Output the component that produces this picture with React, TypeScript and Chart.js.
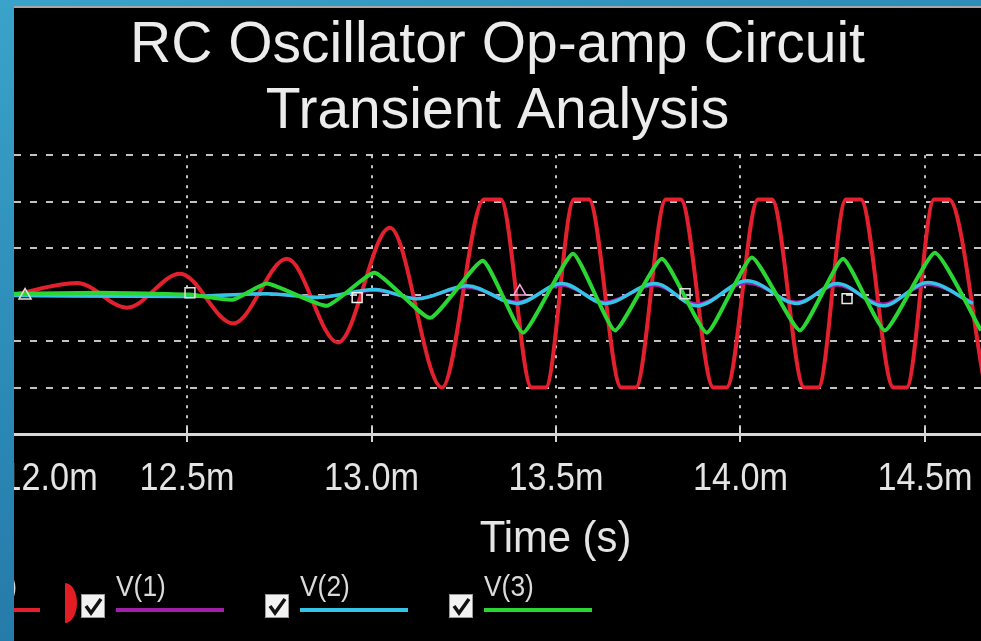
import React, { useEffect, useRef } from "react";
import { Chart, registerables } from "chart.js";

Chart.register(...registerables);

// ---------- text ----------
const TITLE_LINES = ["RC Oscillator Op-amp Circuit", "Transient Analysis"];
const X_AXIS_TITLE = "Time (s)";

// ---------- axes ----------
const X_MIN = 12.031;
const X_MAX = 14.652;
const X_TICK_VALUES = [12.0, 12.5, 13.0, 13.5, 14.0, 14.5];
const X_TICK_LABELS = ["12.0m", "12.5m", "13.0m", "13.5m", "14.0m", "14.5m"];
const Y_MIN = -3;
const Y_MAX = 3;
const Y_TICK_VALUES = [-3, -2, -1, 0, 1, 2, 3];

// ---------- series ----------
const SERIES_NAMES = ["V(vout)", "V(1)", "V(2)", "V(3)"];
const SERIES_COLORS = ["#e2202e", "#a21fa8", "#33c4e8", "#2ad632"];

// red trace (time in ms, volts)
const RED_T = [12.031, 12.202, 12.337, 12.481, 12.625, 12.771, 12.909, 13.05, 13.191,
  13.305, 13.35, 13.434, 13.472, 13.549, 13.589, 13.677, 13.716, 13.798, 13.838,
  13.927, 13.962, 14.048, 14.085, 14.173, 14.211, 14.286, 14.326, 14.415, 14.45,
  14.525, 14.565, 14.663];
const RED_V = [0.0, 0.25, -0.28, 0.45, -0.62, 0.77, -1.03, 1.44, -2.0,
  2.05, 2.05, -2.0, -2.0, 2.05, 2.05, -2.0, -2.0, 2.05, 2.05,
  -2.0, -2.0, 2.05, 2.05, -2.0, -2.0, 2.05, 2.05, -2.0, -2.0,
  2.05, 2.05, -2.0];

// purple trace V(1)
const V1_T = [12.031, 12.508, 12.717, 12.852, 13.009, 13.123, 13.259, 13.394, 13.516,
  13.633, 13.768, 13.882, 14.018, 14.153, 14.262, 14.386, 14.508, 14.63];
const V1_V = [-0.02, -0.03, 0.02, -0.05, 0.09, -0.08, 0.16, -0.16, 0.2,
  -0.16, 0.2, -0.2, 0.25, -0.16, 0.2, -0.2, 0.22, -0.16];

// cyan trace V(2)
const V2_T = [12.031, 12.508, 12.717, 12.852, 13.009, 13.123, 13.259, 13.394, 13.516,
  13.633, 13.768, 13.882, 14.018, 14.153, 14.262, 14.386, 14.508, 14.63];
const V2_V = [-0.02, -0.04, 0.02, -0.06, 0.11, -0.09, 0.19, -0.19, 0.24,
  -0.19, 0.24, -0.24, 0.3, -0.19, 0.24, -0.24, 0.26, -0.19];

// green trace V(3)
const V3_T = [12.031, 12.264, 12.508, 12.625, 12.717, 12.879, 13.009, 13.159, 13.302,
  13.411, 13.546, 13.66, 13.787, 13.909, 14.031, 14.161, 14.278, 14.392, 14.527, 14.652];
const V3_V = [0.02, 0.04, 0.0, -0.11, 0.24, -0.24, 0.47, -0.5, 0.73,
  -0.82, 0.88, -0.77, 0.77, -0.82, 0.8, -0.77, 0.77, -0.77, 0.9, -0.77];

// trace markers
const MARK_T = [12.061, 12.508, 12.961, 13.402, 13.85, 14.289];
const MARK_V = [-0.02, 0.04, -0.065, 0.065, 0.02, -0.086];
const MARK_SHAPES = ["triangle", "rect", "rect", "triangle", "rect", "rect"];
const MARK_COLORS = ["#e8e2d2", "#e0e0e0", "#f2f2f2", "#f2a8d8", "#dcdcdc", "#ececec"];

const FONT = "'Liberation Sans', Arial, Helvetica, sans-serif";

const pts = (t: number[], v: number[]) => t.map((x, i) => ({ x, y: v[i] }));

const overlayPlugin = {
  id: "scopeOverlay",
  afterDraw(chart: any) {
    const { ctx, chartArea, scales } = chart;
    const xs = scales.x;
    const bottom = chartArea.bottom;
    ctx.save();

    // tick marks across the axis
    ctx.strokeStyle = "#d4d4d4";
    ctx.lineWidth = 2;
    X_TICK_VALUES.forEach((v) => {
      if (v < xs.min || v > xs.max) return;
      const px = Math.round(xs.getPixelForValue(v));
      ctx.beginPath();
      ctx.moveTo(px, bottom - 7);
      ctx.lineTo(px, bottom + 8);
      ctx.stroke();
    });

    // tick labels
    ctx.fillStyle = "#e4e4e4";
    ctx.font = `38px ${FONT}`;
    ctx.textBaseline = "alphabetic";
    X_TICK_VALUES.forEach((v, i) => {
      const px = xs.getPixelForValue(v);
      ctx.save();
      ctx.translate(px, bottom + 56);
      ctx.scale(0.9, 1);
      ctx.textAlign = i === 0 ? "left" : "center";
      ctx.fillText(X_TICK_LABELS[i], 0, 0);
      ctx.restore();
    });

    // axis title
    ctx.save();
    ctx.font = `44px ${FONT}`;
    ctx.textAlign = "center";
    ctx.translate(chartArea.left + (chartArea.right - chartArea.left) * 0.56, bottom + 118);
    ctx.scale(0.95, 1);
    ctx.fillText(X_AXIS_TITLE, 0, 0);
    ctx.restore();

    // legend
    const legTop = bottom + 160;
    SERIES_NAMES.forEach((name, i) => {
      const cbx = chartArea.left - 117 + 184 * i;
      // checkbox
      ctx.fillStyle = "#f2f2f2";
      ctx.fillRect(cbx, legTop, 24, 24);
      ctx.strokeStyle = "#9a9a9a";
      ctx.lineWidth = 1;
      ctx.strokeRect(cbx + 0.5, legTop + 0.5, 23, 23);
      ctx.strokeStyle = "#111";
      ctx.lineWidth = 3.5;
      ctx.beginPath();
      ctx.moveTo(cbx + 5, legTop + 12);
      ctx.lineTo(cbx + 10, legTop + 19);
      ctx.lineTo(cbx + 20, legTop + 5);
      ctx.stroke();
      // label
      ctx.save();
      ctx.fillStyle = "#dadada";
      ctx.font = `30px ${FONT}`;
      ctx.textAlign = "left";
      ctx.translate(cbx + 35, legTop + 2);
      ctx.scale(0.88, 1);
      ctx.fillText(name, 0, 0);
      ctx.restore();
      // line sample
      ctx.strokeStyle = SERIES_COLORS[i];
      ctx.lineWidth = 4;
      ctx.beginPath();
      ctx.moveTo(cbx + 35, legTop + 16);
      ctx.lineTo(cbx + 35 + 108, legTop + 16);
      ctx.stroke();
      // active-trace indicator before V(1)
      if (i === 1) {
        ctx.fillStyle = "#e41c24";
        ctx.beginPath();
        ctx.ellipse(cbx - 16, legTop + 9, 12, 20, 0, -Math.PI / 2, Math.PI / 2);
        ctx.closePath();
        ctx.fill();
      }
    });
    ctx.restore();
  },
};

export default function App() {
  const ref = useRef<HTMLCanvasElement | null>(null);

  useEffect(() => {
    const canvas = ref.current;
    if (!canvas) return;
    const lineDs = (i: number, data: any[], width: number, order: number, extra: any = {}) => ({
      label: SERIES_NAMES[i],
      data,
      borderColor: SERIES_COLORS[i],
      backgroundColor: SERIES_COLORS[i],
      borderWidth: width,
      pointRadius: 0,
      fill: false,
      order,
      cubicInterpolationMode: "monotone",
      ...extra,
    });
    const chart = new Chart(canvas, {
      type: "line",
      data: {
        datasets: [
          lineDs(0, pts(RED_T, RED_V), 4, 4),
          lineDs(1, pts(V1_T, V1_V), 3, 3),
          lineDs(2, pts(V2_T, V2_V), 3.5, 2),
          lineDs(3, pts(V3_T, V3_V), 4, 1, { cubicInterpolationMode: "default", tension: 0.15 }),
          {
            label: "markers",
            data: pts(MARK_T, MARK_V),
            showLine: false,
            pointStyle: MARK_SHAPES as any,
            pointRadius: 7,
            pointBorderWidth: 1.5,
            pointBorderColor: MARK_COLORS,
            pointBackgroundColor: "rgba(0,0,0,0)",
            order: 0,
          } as any,
        ],
      },
      options: {
        animation: false,
        responsive: false,
        events: [],
        layout: { autoPadding: false, padding: { left: 0, right: 0, top: 0, bottom: 207 } },
        plugins: {
          legend: { display: false },
          tooltip: { enabled: false },
          title: {
            display: true,
            text: TITLE_LINES,
            color: "#ececec",
            font: { family: FONT, size: 57, weight: "normal", lineHeight: 1.16 },
            padding: { top: 5, bottom: 10 },
          },
        },
        scales: {
          x: {
            type: "linear",
            min: X_MIN,
            max: X_MAX,
            afterBuildTicks: (s: any) => {
              s.ticks = X_TICK_VALUES.filter((v) => v >= X_MIN && v <= X_MAX).map((v) => ({ value: v }));
            },
            ticks: { display: false },
            grid: { color: "rgba(215,215,215,0.9)", lineWidth: 2, drawTicks: false },
            border: { display: true, color: "#d8d8d8", width: 3, dash: [3, 7] },
          },
          y: {
            type: "linear",
            min: Y_MIN,
            max: Y_MAX,
            afterBuildTicks: (s: any) => {
              s.ticks = Y_TICK_VALUES.map((v) => ({ value: v }));
            },
            ticks: { display: false },
            grid: { color: "rgba(215,215,215,0.9)", lineWidth: 2, drawTicks: false },
            border: { display: false, dash: [7, 9] },
          },
        },
      } as any,
      plugins: [overlayPlugin],
    });
    return () => chart.destroy();
  }, []);

  return (
    <div
      style={{
        position: "fixed",
        left: 0,
        top: 0,
        width: 981,
        height: 641,
        overflow: "hidden",
        background: "linear-gradient(160deg, #3aa3c9 0%, #2a86b4 45%, #1d6696 100%)",
      }}
    >
      <div style={{ position: "absolute", left: 14, top: 6, width: 967, height: 2, background: "#a6a6a6" }} />
      <div style={{ position: "absolute", left: 14, top: 8, width: 967, height: 633, background: "#000" }}>
        <canvas ref={ref} width={967} height={633} style={{ display: "block", width: 967, height: 633 }} />
      </div>
    </div>
  );
}
